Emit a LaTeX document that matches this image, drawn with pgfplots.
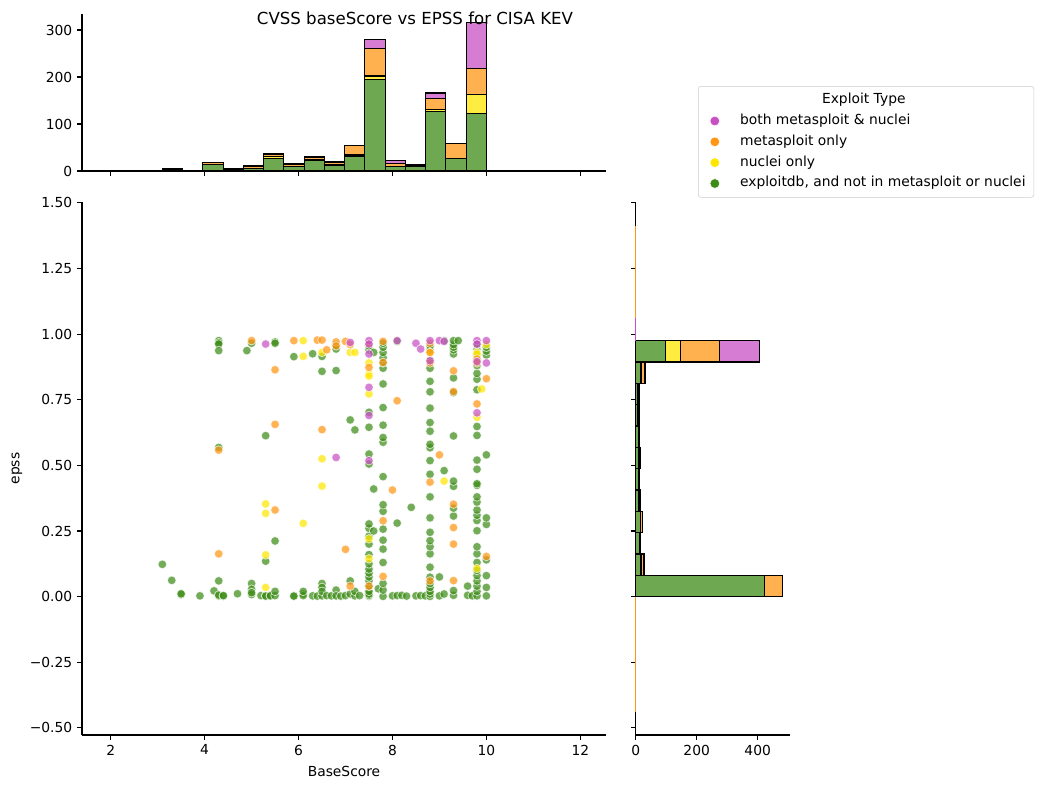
\documentclass[border=0pt]{standalone}
\usepackage{fontspec}
\setmainfont{DejaVu Sans}
\usepackage{pgfplots}
\usepackage{pgfplotstable}
\pgfplotsset{compat=1.18}
\definecolor{cpink}{RGB}{200,80,195}
\definecolor{corange}{RGB}{255,150,20}
\definecolor{cyellow}{RGB}{255,230,0}
\definecolor{cgreen}{RGB}{61,140,23}
\definecolor{hpink}{RGB}{214,124,210}
\definecolor{horange}{RGB}{255,176,79}
\definecolor{hyellow}{RGB}{255,236,64}
\definecolor{hgreen}{RGB}{110,169,81}

% top histogram: bin centre, exploitdb, nuclei, metasploit, both
\pgfplotstableread{
x g y o p
3.3156 4 0 1 0
3.7469 1 0 0 0
4.1781 14 0 4 1
4.6094 3 0 1 1
5.0406 6 0 4 1
5.4719 26 4 6 2
5.9031 9 1 4 1
6.3344 23 2 4 1
6.7656 12 1 6 1
7.1969 32 2 20 1
7.6281 194 8 59 19
8.0594 9 0 7 6
8.4906 9 0 2 2
8.9219 127 3 25 11
9.3531 26 0 33 0
9.7844 123 40 55 98
}\tophist

% right histogram: bin centre, exploitdb, nuclei, metasploit, both
\pgfplotstableread{
e g y o p
0.0406 421 2 57 0
0.1219 17 2 8 1
0.2031 12 1 2 0
0.2844 15 2 5 0
0.3656 10 2 3 0
0.4469 8 2 2 0
0.5281 10 2 3 2
0.6094 8 0 2 2
0.6906 6 1 3 2
0.7719 7 2 2 1
0.8531 17 2 11 1
0.9344 97 51 126 131
}\righthist

\pgfplotstableread{
s e
3.1 0.123
3.3 0.062
3.5 0.008
3.5 0.011
3.9 0.003
4.2 0.022
4.3 0.060
4.3 0.003
4.3 0.006
4.4 0.002
4.4 0.004
4.7 0.011
5.0 0.050
5.0 0.028
5.0 0.008
5.0 0.015
5.2 0.004
5.3 0.004
5.3 0.135
5.3 0.002
5.4 0.005
5.4 0.003
5.5 0.004
5.5 0.020
5.5 0.212
5.9 0.003
5.9 0.002
6.1 0.010
6.1 0.004
6.1 0.020
6.3 0.003
6.4 0.002
6.5 0.003
6.5 0.050
6.5 0.035
6.5 0.020
6.6 0.004
6.7 0.003
6.8 0.025
6.8 0.003
6.9 0.002
7.0 0.004
7.1 0.060
7.1 0.010
7.2 0.003
7.2 0.020
7.3 0.004
7.5 0.002
7.5 0.005
7.5 0.010
7.5 0.020
7.5 0.040
7.5 0.060
7.5 0.075
7.5 0.090
7.5 0.105
7.5 0.125
7.5 0.160
7.5 0.200
7.5 0.230
7.5 0.260
7.5 0.277
7.5 0.505
7.5 0.543
7.5 0.645
7.5 0.702
7.5 0.940
7.5 0.955
7.6 0.250
7.6 0.410
7.6 0.930
7.7 0.030
7.8 0.001
7.8 0.025
7.8 0.050
7.8 0.130
7.8 0.181
7.8 0.215
7.8 0.257
7.8 0.325
7.8 0.350
7.8 0.457
7.8 0.588
7.8 0.606
7.8 0.653
7.8 0.720
7.8 0.810
7.8 0.870
7.8 0.890
7.8 0.910
7.8 0.930
7.8 0.950
7.8 0.965
8.0 0.003
8.1 0.972
8.1 0.280
8.1 0.004
8.2 0.005
8.3 0.002
8.4 0.340
8.5 0.003
8.6 0.004
8.7 0.003
8.8 0.001
8.8 0.010
8.8 0.020
8.8 0.035
8.8 0.050
8.8 0.074
8.8 0.112
8.8 0.163
8.8 0.190
8.8 0.213
8.8 0.245
8.8 0.300
8.8 0.380
8.8 0.466
8.8 0.518
8.8 0.567
8.8 0.580
8.8 0.630
8.8 0.663
8.8 0.718
8.8 0.780
8.8 0.820
8.8 0.870
8.8 0.900
8.8 0.940
8.8 0.955
9.0 0.075
9.0 0.003
9.1 0.480
9.1 0.975
9.1 0.010
9.3 0.005
9.3 0.023
9.3 0.307
9.3 0.337
9.3 0.420
9.3 0.440
9.3 0.612
9.3 0.777
9.3 0.833
9.3 0.924
9.3 0.940
9.3 0.950
9.3 0.960
9.3 0.975
9.4 0.975
9.6 0.040
9.6 0.005
9.7 0.003
9.8 0.003
9.8 0.020
9.8 0.040
9.8 0.060
9.8 0.080
9.8 0.100
9.8 0.130
9.8 0.163
9.8 0.190
9.8 0.251
9.8 0.290
9.8 0.310
9.8 0.330
9.8 0.360
9.8 0.380
9.8 0.424
9.8 0.430
9.8 0.485
9.8 0.520
9.8 0.614
9.8 0.648
9.8 0.788
9.8 0.828
9.8 0.850
9.8 0.880
9.8 0.900
9.8 0.920
9.8 0.940
9.8 0.960
10.0 0.003
10.0 0.035
10.0 0.080
10.0 0.140
10.0 0.275
10.0 0.300
10.0 0.540
10.0 0.920
10.0 0.935
10.0 0.950
4.3 0.975
4.3 0.967
4.3 0.962
4.3 0.937
4.3 0.568
4.9 0.937
5.0 0.965
5.3 0.613
5.5 0.970
5.5 0.965
5.9 0.914
6.3 0.925
6.5 0.915
6.5 0.858
6.8 0.960
6.8 0.943
6.8 0.861
7.1 0.673
7.2 0.635
}\greenpts

\pgfplotstableread{
s e
5.3 0.035
5.3 0.159
5.3 0.317
5.3 0.353
6.1 0.279
6.1 0.975
6.1 0.915
6.5 0.930
6.5 0.525
6.5 0.421
7.1 0.930
7.2 0.930
7.5 0.890
7.5 0.848
7.5 0.840
7.5 0.772
7.5 0.220
7.5 0.144
8.8 0.930
9.1 0.440
9.8 0.930
9.8 0.924
9.8 0.683
9.8 0.107
9.9 0.791
10.0 0.960
}\yellowpts

\pgfplotstableread{
s e
4.3 0.163
4.3 0.558
5.0 0.975
5.5 0.864
5.5 0.656
5.5 0.330
5.9 0.975
6.4 0.977
6.5 0.977
6.5 0.636
6.6 0.940
6.8 0.970
6.8 0.955
7.0 0.972
7.0 0.180
7.1 0.960
7.1 0.040
7.5 0.965
7.5 0.873
7.5 0.040
7.8 0.972
7.8 0.892
7.8 0.289
7.8 0.077
8.0 0.406
8.1 0.746
8.8 0.965
8.8 0.930
8.8 0.890
8.8 0.436
8.8 0.060
9.0 0.540
9.3 0.860
9.3 0.781
9.3 0.352
9.3 0.263
9.3 0.200
9.3 0.061
9.8 0.905
9.8 0.890
9.8 0.734
10.0 0.830
10.0 0.153
}\orangepts

\pgfplotstableread{
s e
5.3 0.962
6.8 0.530
7.1 0.968
7.5 0.975
7.5 0.962
7.5 0.924
7.5 0.797
7.5 0.690
7.5 0.518
8.1 0.975
8.5 0.965
8.6 0.943
8.8 0.975
8.8 0.898
9.0 0.975
9.1 0.972
9.8 0.975
9.8 0.962
9.8 0.895
9.8 0.700
10.0 0.975
10.0 0.890
}\pinkpts

\pgfplotsset{
  jp/.style={
    scale only axis,
    axis x line*=bottom, axis y line*=left,
    axis line style={line width=0.8bp, -},
    tick align=outside,
    major tick length=3.5bp,
    every tick/.style={black, line width=0.8bp},
    tick label style={font=\fontsize{10}{12}\selectfont},
    /pgf/number format/assume math mode=true,
    clip=false,
  },
  pt/.style={only marks, mark=*, mark size=3.1bp,
    mark options={fill=#1, draw=white, line width=0.5bp, opacity=0.72}},
  lg/.style={only marks, mark=*, mark size=3.5bp,
    mark options={fill=#1, draw=white, line width=0.4bp},
    legend image code/.code={\path (-7.7bp,0bp) (16bp,0bp);
      \draw[##1] plot coordinates {(0bp,0bp)};}},
}

\begin{document}
\begin{tikzpicture}[x=1bp,y=1bp]
\useasboundingbox (0,0) rectangle (751.68bp,567.36bp);

% main scatter
\begin{axis}[jp,
  at={(59.04bp,38.16bp)}, anchor=south west,
  width=377.28bp, height=383.76bp,
  xmin=1.389, xmax=12.547, ymin=-0.527, ymax=1.503,
  xtick={2,4,6,8,10,12},
  ytick={-0.5,-0.25,0,0.25,0.5,0.75,1,1.25,1.5},
  yticklabels={−0.50,−0.25,0.00,0.25,0.50,0.75,1.00,1.25,1.50},
  xlabel={BaseScore}, ylabel={epss},
  label style={font=\fontsize{10}{12}\selectfont},
  xlabel style={at={(axis description cs:0.5,-0.0675)}, anchor=center},
  ylabel style={at={(axis description cs:-0.124,0.5)}, anchor=center},
  legend style={at={(1.1756,1.2176)}, anchor=north west,
    draw=black!20, rounded corners=2bp, fill=white,
    font=\fontsize{10}{12}\selectfont,
    nodes={inner sep=2bp, text height=7.5bp, text depth=2.5bp},
    row sep=1bp, inner xsep=4bp, inner ysep=3bp},
  legend cell align=left,
]
\addlegendimage{empty legend}
\addlegendentry{\hspace*{59bp}Exploit Type}
\addlegendimage{lg=cpink}
\addlegendentry{both metasploit \& nuclei}
\addlegendimage{lg=corange}
\addlegendentry{metasploit only}
\addlegendimage{lg=cyellow}
\addlegendentry{nuclei only}
\addlegendimage{lg=cgreen}
\addlegendentry{exploitdb, and not in metasploit or nuclei}
\addplot[pt=cgreen, forget plot] table[x=s, y=e] {\greenpts};
\addplot[pt=cyellow, forget plot] table[x=s, y=e] {\yellowpts};
\addplot[pt=corange, forget plot] table[x=s, y=e] {\orangepts};
\addplot[pt=cpink, forget plot] table[x=s, y=e] {\pinkpts};
\end{axis}

% top marginal histogram
\begin{axis}[jp,
  at={(59.04bp,444.24bp)}, anchor=south west,
  width=377.28bp, height=113.04bp,
  xmin=1.389, xmax=12.547, ymin=0, ymax=334,
  xtick={2,4,6,8,10,12}, xticklabels={},
  ytick={0,100,200,300},
  ybar stacked, bar width=0.43125,
]
\addplot[fill=hgreen, draw=black, line width=0.8bp] table[x=x, y=g] {\tophist};
\addplot[fill=hyellow, draw=black, line width=0.8bp] table[x=x, y=y] {\tophist};
\addplot[fill=horange, draw=black, line width=0.8bp] table[x=x, y=o] {\tophist};
\addplot[fill=hpink, draw=black, line width=0.8bp] table[x=x, y=p] {\tophist};
\end{axis}

% right marginal histogram
\begin{axis}[jp,
  at={(457.7bp,38.16bp)}, anchor=south west,
  width=111.1bp, height=383.76bp,
  xmin=0, xmax=506, ymin=-0.527, ymax=1.503,
  xtick={0,200,400},
  ytick={-0.5,-0.25,0,0.25,0.5,0.75,1,1.25,1.5}, yticklabels={},
  xbar stacked, bar width=0.08125,
]
\addplot[fill=hgreen, draw=black, line width=0.8bp] table[x=g, y=e] {\righthist};
\addplot[fill=hyellow, draw=black, line width=0.8bp] table[x=y, y=e] {\righthist};
\addplot[fill=horange, draw=black, line width=0.8bp] table[x=o, y=e] {\righthist};
\addplot[fill=hpink, draw=black, line width=0.8bp] table[x=p, y=e] {\righthist};
\end{axis}

% thin zero-width traces along the right histogram's axis
\begin{axis}[scale only axis, hide axis,
  at={(457.7bp,38.16bp)}, anchor=south west,
  width=111.1bp, height=383.76bp,
  xmin=0, xmax=506, ymin=-0.527, ymax=1.503, clip=false]
\addplot[corange, line width=0.8bp] coordinates {(0,-0.44) (0,0)};
\addplot[corange, line width=0.8bp] coordinates {(0,1.06) (0,1.41)};
\addplot[cpink, line width=0.8bp] coordinates {(0,0.975) (0,1.06)};
\end{axis}

\node[font=\fontsize{12}{14}\selectfont] at (298.8bp,554.4bp) {CVSS baseScore vs EPSS for CISA KEV};
\end{tikzpicture}
\end{document}
